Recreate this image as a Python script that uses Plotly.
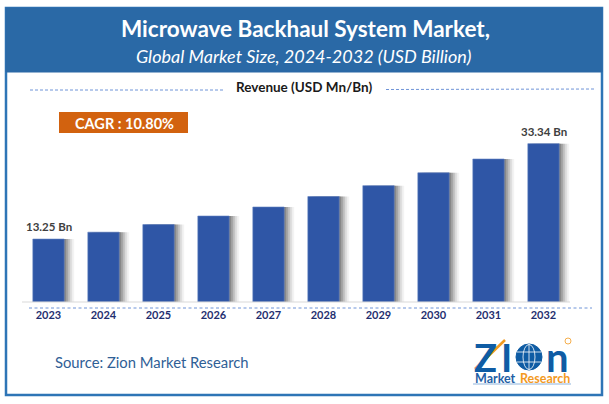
import plotly.graph_objects as go

years = ["2023","2024","2025","2026","2027","2028","2029","2030","2031","2032"]
revenue = [13.25,14.7,16.3,18.1,20.0,22.2,24.5,27.2,30.1,33.34]
labelled_years = ["2023","2032"]
labelled_values = [13.25,33.34]
labelled_text = ["13.25 Bn","33.34 Bn"]
title_main = "Microwave Backhaul System Market,"
title_sub = "Global Market Size, 2024-2032 (USD Billion)"
heading = "Revenue (USD Mn/Bn)"
cagr = "CAGR : 10.80%"
source = "Source: Zion Market Research"

W, H = 609, 404
def fx(p): return p / W
def fy(p): return 1 - p / H
FAM = "Lato, Liberation Sans"

fig = go.Figure()

for off, alpha in [(10,0.07),(8,0.12),(6,0.18),(4,0.26),(2,0.34)]:
    fig.add_trace(go.Bar(x=years, y=revenue, width=0.57, offset=-0.285 + off/55,
                         marker=dict(color=f"rgba(80,80,80,{alpha})", line_width=0),
                         hoverinfo="skip", showlegend=False))
fig.add_trace(go.Bar(x=years, y=revenue, width=0.57, offset=-0.285,
                     marker=dict(color="#2f56a6", line=dict(color="#5f7fc0", width=0.6)),
                     showlegend=False))

def rect(x0, y0, x1, y1, **kw):
    return dict(type="rect", xref="paper", yref="paper", x0=fx(x0), x1=fx(x1), y0=fy(y1), y1=fy(y0), **kw)
def seg(x0, y0, x1, y1, color, width=1, dash=None):
    line = dict(color=color, width=width)
    if dash: line["dash"] = dash
    return dict(type="line", xref="paper", yref="paper", x0=fx(x0), x1=fx(x1), y0=fy(y0), y1=fy(y1), line=line)
def circle(cx, cy, rx, ry, **kw):
    return rect(cx-rx, cy-ry, cx+rx, cy+ry, **kw) | {"type": "circle"}

LOGO = "#0f5ca4"
DASH = "#6f94d8"
shapes = [
    rect(6, 8, 602, 395, line=dict(color="#2e75b6", width=2.5), fillcolor="rgba(0,0,0,0)"),
    rect(6, 8, 602, 72, line=dict(color="#2a69a6", width=1), fillcolor="#2a69a6"),
    seg(30, 90, 225, 90, DASH, 1, "3px,2px"),
    seg(386, 89.5, 596, 89, DASH, 1, "3px,2px"),
    rect(59, 112, 188, 133, line_width=0, fillcolor="#d2620f"),
    seg(22, 302, 570, 302, "#d9d9d9"),
    seg(29, 308, 592, 308, DASH, 1, "3px,2.5px"),
    # logo: globe, arrow, underline
    circle(529, 357, 13, 13, line=dict(color=LOGO, width=1), fillcolor=LOGO),
    circle(529, 357, 6, 12.5, line=dict(color="white", width=0.8), fillcolor="rgba(0,0,0,0)"),
    seg(516.5, 352, 541.5, 352, "white", 0.8),
    seg(516.5, 362, 541.5, 362, "white", 0.8),
    seg(529, 344, 529, 370, "white", 0.8),
    seg(475, 369, 505, 340, "#f39a1f", 2.5),
    seg(473, 384, 571, 384, "#8fb4dc", 1),
    circle(568, 341, 3, 3, line=dict(color="#f39a1f", width=0.8), fillcolor="rgba(0,0,0,0)"),
]

def note(text, x, y, size, color, family=FAM, xanchor="center"):
    return dict(text=text, x=fx(x), y=fy(y), xref="paper", yref="paper", showarrow=False,
                xanchor=xanchor, yanchor="middle", font=dict(size=size, color=color, family=family))

annotations = [
    note(f"<b>{title_main}</b>", 305, 29, 22.5, "white"),
    note(f"<i>{title_sub}</i>", 303, 56, 18, "white"),
    note(f"<b>{heading}</b>", 304, 87, 13.5, "#1a1a1a"),
    note(f"<b>{cagr}</b>", 124, 123, 14.5, "white"),
    note(source, 53, 362, 14.8, "#2f6096", xanchor="left"),
    note("<b>Z</b>", 485, 357, 38, LOGO),
    note("<b>I</b>", 506, 357, 38, LOGO),
    note("<b>n</b>", 557, 357, 40, LOGO),
    note("<b>Market</b>", 473, 378, 12.5, "#1f5fa5", xanchor="left"),
    note("<b>Research</b>", 518, 378, 12.5, "#f39a1f", xanchor="left"),
]
for yr, val, txt in zip(labelled_years, labelled_values, labelled_text):
    annotations.append(dict(text=f"<b>{txt}</b>", x=years.index(yr), y=val, xref="x", yref="y", showarrow=False,
                            yanchor="bottom", yshift=4,
                            font=dict(family=FAM, size=11.5, color="#404040")))

fig.update_layout(
    width=W, height=H, margin=dict(l=0, r=0, t=0, b=0, autoexpand=False),
    paper_bgcolor="white", plot_bgcolor="rgba(0,0,0,0)",
    barmode="overlay", showlegend=False,
    shapes=shapes, annotations=annotations,
    xaxis=dict(domain=[fx(21), fx(571)], type="category", range=[-0.5, 9.5], showline=False, showgrid=False, ticks="",
               ticklabelstandoff=5, categoryorder="array", categoryarray=years,
               tickfont=dict(family=FAM, size=11, color="#1f2f6f", weight="bold")),
    yaxis=dict(domain=[fy(302), fy(112)], range=[0, 40], visible=False),
)
fig.write_html("out.html", config=dict(displayModeBar=False),
               post_script="document.body.style.margin='0';document.documentElement.style.overflow='hidden';")
